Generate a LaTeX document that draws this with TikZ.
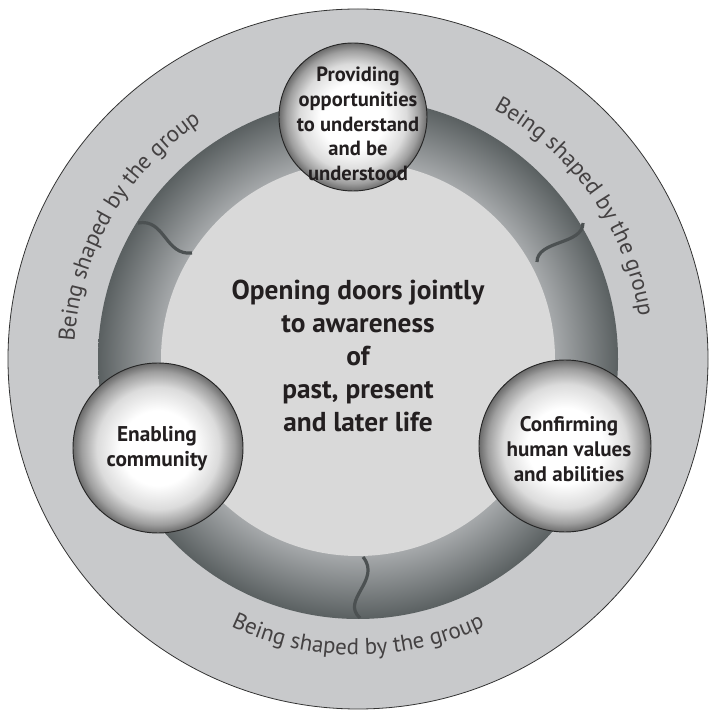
\documentclass[tikz,border=0pt]{standalone}
\usepackage{fontspec}
\setmainfont{PT Sans}
\usetikzlibrary{decorations.text}

\definecolor{bandgray}{HTML}{C8C9CB}
\definecolor{innergray}{HTML}{D9D9D9}
\definecolor{ringdark}{HTML}{5A6061}
\definecolor{ringlight}{HTML}{A6A9AB}
\definecolor{seamgray}{HTML}{4C5152}
\definecolor{inkgray}{HTML}{231F20}

\pgfdeclareradialshading{ringshade}{\pgfpoint{0bp}{0bp}}{color(0bp)=(ringlight); color(18.9bp)=(ringlight); color(25bp)=(ringdark); color(50bp)=(ringdark)}
\pgfdeclareradialshading{ballshade}{\pgfpoint{0bp}{0bp}}{color(0bp)=(white); color(11bp)=(white); color(18bp)=(black!14); color(22.5bp)=(black!38); color(25bp)=(black!58); color(50bp)=(black!58)}

\newcommand\bandfont{\fontsize{17.2}{20}\selectfont}

\tikzset{
  ballnode/.style={circle,shade,shading=ballshade,draw=black!85,line width=0.7pt,inner sep=0pt,outer sep=0pt},
  balltext/.style={align=center,text=inkgray,font=\fontsize{15.4}{18.5}\selectfont\bfseries},
  seam/.style={seamgray,line width=2.4pt},
  bandtext/.style={decorate,decoration={text along path,text align=center,text={|\bandfont\color{inkgray!85}|Being shaped by the group}}}
}

\begin{document}
\begin{tikzpicture}[x=0.75pt,y=0.75pt]
  \useasboundingbox (0,0) rectangle (709,711);
  \coordinate (c) at (358,352);

  % bands
  \fill[bandgray,draw=black!80,line width=0.6pt] (c) circle[radius=350];
  \shade[shading=ringshade] (c) circle[radius=260];
  \fill[innergray] (c) circle[radius=197];

  % seams across the ring
  \draw[seam] (138,488) .. controls (165,493) and (165,455) .. (192,458);
  \draw[seam] (583,488) .. controls (583,466) and (537,471) .. (537,449);
  \draw[seam] (363,154) .. controls (382,131) and (340,111) .. (360,93);

  % text round the outer band
  \path[bandtext] (c) ++(190:284) arc[start angle=190,end angle=110,radius=284];
  \path[bandtext] (c) ++(75:284) arc[start angle=75,end angle=-5,radius=284];
  \path[bandtext] (c) ++(230:296) arc[start angle=230,end angle=310,radius=296];

  % centre
  \node[align=center,text=inkgray,font=\fontsize{20.5}{24.75}\selectfont\bfseries] (aim) at (358,355)
    {Opening doors jointly\\to awareness\\of\\past, present\\and later life};

  % the three balls
  \node[ballnode,minimum size=111pt] (provide) at (353,594) {};
  \node[ballnode,minimum size=127.5pt] (enable) at (158,263) {};
  \node[ballnode,minimum size=129pt] (confirm) at (565,265) {};

  \node[balltext] (provide text) at (358,587) {Providing\\opportunities\\to understand\\and be\\understood};
  \node[balltext,font=\fontsize{16}{18.75}\selectfont\bfseries] (enable text) at (157,262) {Enabling\\community};
  \node[balltext,font=\fontsize{15.8}{18.75}\selectfont\bfseries] (confirm text) at (569,262) {Confirming\\human values\\and abilities};
\end{tikzpicture}
\end{document}
